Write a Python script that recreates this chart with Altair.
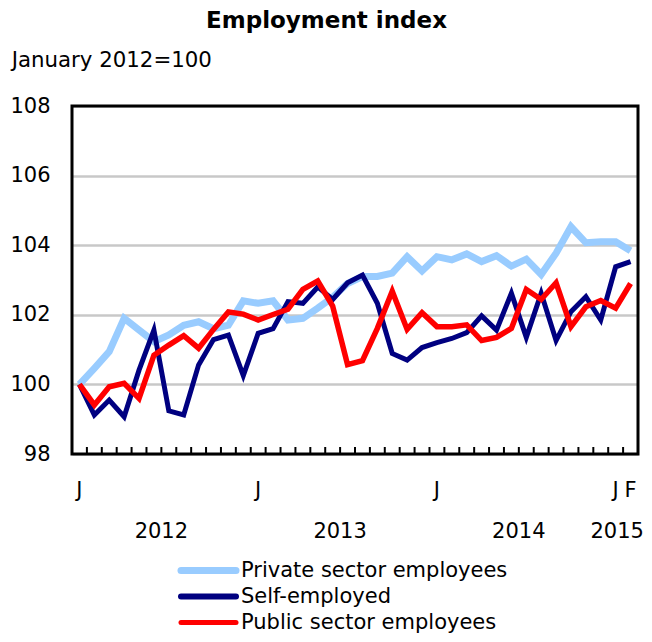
import altair as alt
import pandas as pd

title_text = "Employment index"
subtitle_text = "January 2012=100"

series_names = ["Private sector employees", "Self-employed", "Public sector employees"]
series_colors = ["#99CCFF", "#000080", "#FF0000"]
series_widths = [7, 5, 5.5]

# Monthly index, January 2012 .. February 2015 (38 months)
month_index = list(range(38))
private = [100.0, 100.46, 100.94, 101.9, 101.56, 101.23, 101.42, 101.7, 101.8, 101.6,
           101.7, 102.4, 102.33, 102.4, 101.85, 101.9, 102.19, 102.5, 102.9, 103.1,
           103.1, 103.2, 103.67, 103.26, 103.67, 103.58, 103.75, 103.53, 103.7, 103.4,
           103.6, 103.16, 103.77, 104.53, 104.07, 104.1, 104.1, 103.84]
self_employed = [100.0, 99.12, 99.55, 99.07, 100.41, 101.56, 99.24, 99.12, 100.56, 101.29,
                 101.42, 100.25, 101.47, 101.6, 102.38, 102.33, 102.8, 102.44, 102.92, 103.14,
                 102.33, 100.89, 100.7, 101.06, 101.2, 101.32, 101.49, 101.97, 101.56, 102.62,
                 101.35, 102.62, 101.26, 102.09, 102.52, 101.85, 103.38, 103.53]
public = [100.0, 99.41, 99.93, 100.03, 99.6, 100.84, 101.13, 101.4, 101.04, 101.58,
          102.08, 102.02, 101.85, 102.01, 102.16, 102.73, 102.97, 102.25, 100.57, 100.68,
          101.61, 102.68, 101.58, 102.06, 101.66, 101.66, 101.71, 101.26, 101.35, 101.61,
          102.73, 102.44, 102.92, 101.66, 102.23, 102.41, 102.19, 102.9]
month_year = [2012] * 12 + [2013] * 12 + [2014] * 12 + [2015] * 2

x_label_months = [0, 12, 24, 36, 37]
x_label_texts = ["J", "J", "J", "J", "F"]
y_ticks = [98, 100, 102, 104, 106, 108]
years = ["2012", "2013", "2014", "2015"]

W, H = 566, 348
FONT = "DejaVu Sans"
FS = 21

long_df = pd.DataFrame({
    "m": month_index * 3,
    "series": [s for s in series_names for _ in month_index],
    "value": private + self_employed + public,
})

year_df = pd.DataFrame({"year": years})
year_df["m"] = [sum(i for i, y in zip(month_index, month_year) if str(y) == yr) /
                sum(1 for y in month_year if str(y) == yr) for yr in years]
# keep the last year label inside the page
year_df["m"] = year_df["m"].clip(upper=36.1)
month_lab_df = pd.DataFrame({"m": x_label_months, "lab": x_label_texts})
tick_df = pd.DataFrame({"m": [i + 0.5 for i in month_index[:-1]]})
legend_df = pd.DataFrame({"series": series_names})

xscale = alt.Scale(domain=[-0.5, 37.5], nice=False, zero=False)
yscale = alt.Scale(domain=[98, 108], nice=False, zero=False)
color_scale = alt.Scale(domain=series_names, range=series_colors)

y_axis = alt.Axis(values=y_ticks, ticks=False, tickSize=0, domain=False, grid=True,
                  gridColor="#c8c8c8", gridWidth=2.5, labelPadding=22, title=None,
                  labelFontSize=FS, labelFont=FONT, labelColor="black")

layers = []
for k, (name, w) in enumerate(zip(series_names, series_widths)):
    layers.append(
        alt.Chart(long_df).transform_filter(alt.datum.series == name)
        .mark_line(strokeWidth=w, strokeJoin="miter")
        .encode(
            x=alt.X("m:Q", scale=xscale, axis=None),
            y=alt.Y("value:Q", scale=yscale, axis=y_axis if k == 0 else None),
            color=alt.Color("series:N", scale=color_scale, legend=None),
        )
    )

ticks = alt.Chart(tick_df).mark_rule(color="black", strokeWidth=2).encode(
    x=alt.X("m:Q", scale=xscale, axis=None),
    y=alt.value(H - 7), y2=alt.value(H),
)

frame = alt.Chart(alt.Data(values=[{}])).mark_rect(
    fill=None, stroke="black", strokeWidth=3
).encode(x=alt.value(0), x2=alt.value(W), y=alt.value(0), y2=alt.value(H))

month_text = alt.Chart(month_lab_df).mark_text(
    font=FONT, fontSize=FS, color="black", baseline="alphabetic", align="center"
).encode(x=alt.X("m:Q", scale=xscale, axis=None), y=alt.value(H + 43), text="lab:N")

year_text = alt.Chart(year_df).mark_text(
    font=FONT, fontSize=FS, color="black", baseline="alphabetic", align="center"
).encode(x=alt.X("m:Q", scale=xscale, axis=None), y=alt.value(H + 84), text="year:N")

title_mark = alt.Chart(alt.Data(values=[{"t": title_text}])).mark_text(
    font=FONT, fontSize=23, fontWeight="bold", color="black",
    baseline="alphabetic", align="center"
).encode(x=alt.value(254.5), y=alt.value(-77.7), text="t:N")

subtitle_mark = alt.Chart(alt.Data(values=[{"t": subtitle_text}])).mark_text(
    font=FONT, fontSize=21.3, color="black", baseline="alphabetic", align="left"
).encode(x=alt.value(-60.3), y=alt.value(-39.5), text="t:N")

leg_y = alt.Y("series:N", scale=alt.Scale(type="point", domain=series_names,
                                          range=[464.5, 516.5], padding=0), axis=None)
legend_rules = alt.Chart(legend_df).mark_rule(strokeCap="round").encode(
    x=alt.value(109), x2=alt.value(164), y=leg_y,
    color=alt.Color("series:N", scale=color_scale, legend=None),
    strokeWidth=alt.StrokeWidth("series:N", scale=alt.Scale(domain=series_names,
                                                            range=series_widths), legend=None),
)
legend_text = alt.Chart(legend_df).mark_text(
    font=FONT, fontSize=FS, color="black", align="left", baseline="middle"
).encode(x=alt.value(169), y=leg_y, text="series:N")

chart = alt.layer(
    *layers, ticks, frame, month_text, year_text, title_mark, subtitle_mark,
    legend_rules, legend_text
).resolve_scale(y="independent").properties(
    width=W, height=H,
    autosize=alt.AutoSizeParams(type="none"),
    padding={"left": 64, "top": 98, "right": 6, "bottom": 180},
).configure_view(stroke=None)

chart.save("out.html", embed_options={"renderer": "svg", "actions": False})
